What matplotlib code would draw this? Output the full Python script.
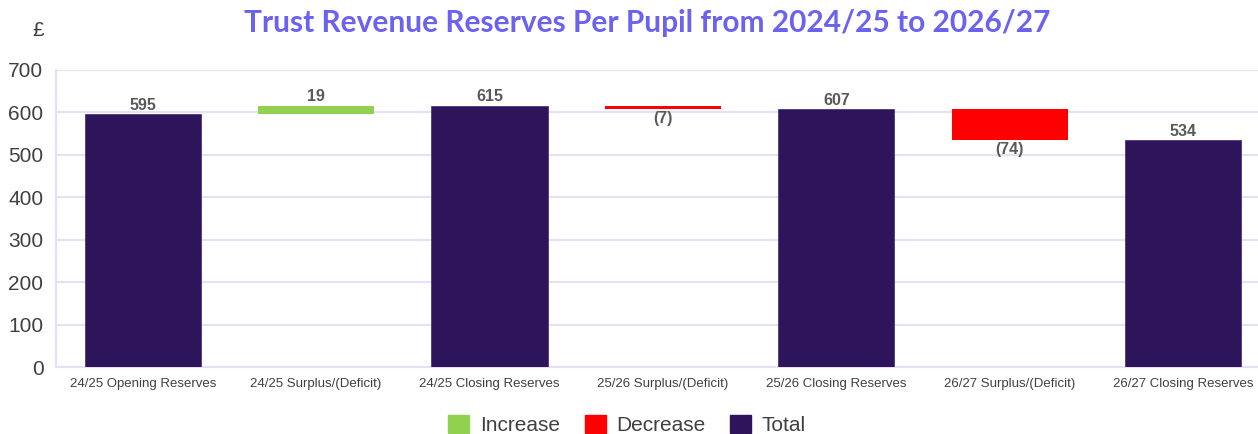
import matplotlib.pyplot as plt
from matplotlib.patches import Patch

# data
categories = ['24/25 Opening Reserves', '24/25 Surplus/(Deficit)', '24/25 Closing Reserves',
              '25/26 Surplus/(Deficit)', '25/26 Closing Reserves', '26/27 Surplus/(Deficit)',
              '26/27 Closing Reserves']
totals = [595, 615, 607, 534]
changes = [19, -7, -74]

total_col = '#2E145B'
up_col = '#92D050'
down_col = '#FF0000'
grid_col = '#E6E0F7'
lab_col = '#595959'

plt.rcParams['font.family'] = ['Liberation Sans', 'DejaVu Sans']

fig = plt.figure(figsize=(12.58, 4.34), dpi=100)
ax = fig.add_axes([0.0445, 0.154, 0.965, 0.685])

w = 0.67
for i in range(len(categories)):
    if i % 2 == 0:
        v = totals[i // 2]
        ax.bar(i, v, width=w, color=total_col, edgecolor='#4a3a80', linewidth=0.6, zorder=3)
        ax.text(i, v + 4, str(v), ha='center', va='bottom', fontsize=11.5,
                fontweight='bold', color=lab_col, zorder=4)
    else:
        c = changes[i // 2]
        a, b = totals[i // 2], totals[i // 2 + 1]
        lo, hi = min(a, b), max(a, b)
        col = up_col if c >= 0 else down_col
        ax.bar(i, hi - lo, bottom=lo, width=w, color=col, zorder=3)
        if c >= 0:
            ax.text(i, hi + 4, str(c), ha='center', va='bottom', fontsize=11.5,
                    fontweight='bold', color=lab_col, zorder=4)
        else:
            ax.text(i, lo - 4, '(%d)' % abs(c), ha='center', va='top', fontsize=11.5,
                    fontweight='bold', color=lab_col, zorder=4)

ax.set_xlim(-0.5, len(categories) - 0.5)
ax.set_ylim(0, 700)
ax.set_yticks(range(0, 701, 100))
ax.tick_params(axis='y', length=0, labelsize=15, labelcolor='#404040', pad=9)
ax.set_xticks(range(len(categories)))
ax.set_xticklabels(categories, fontsize=9.5, color='#404040')
ax.tick_params(axis='x', length=0, pad=8)
ax.grid(axis='y', color=grid_col, linewidth=1.5, zorder=0)
for s in ['top', 'right']:
    ax.spines[s].set_visible(False)
for s in ['left', 'bottom']:
    ax.spines[s].set_color(grid_col)
    ax.spines[s].set_linewidth(1.5)

fig.text(647 / 1258, 1 - 23 / 434, 'Trust Revenue Reserves Per Pupil from 2024/25 to 2026/27',
         ha='center', va='center', fontsize=21.5, fontweight='bold', color='#6B63F0',
         family=['Lato', 'DejaVu Sans'])
fig.text(38 / 1258, 1 - 30 / 434, '£', ha='center', va='center', fontsize=15, color='#404040')

handles = [Patch(color=up_col, label='Increase'), Patch(color=down_col, label='Decrease'),
           Patch(color=total_col, label='Total')]
fig.legend(handles=handles, loc='center', bbox_to_anchor=(627 / 1258, 1 - 425 / 434), ncol=3,
           frameon=False, fontsize=15, handlelength=1.0, handleheight=1.0,
           handletextpad=0.5, columnspacing=1.2, labelcolor='#404040')

fig.savefig('out.png', dpi=100)
